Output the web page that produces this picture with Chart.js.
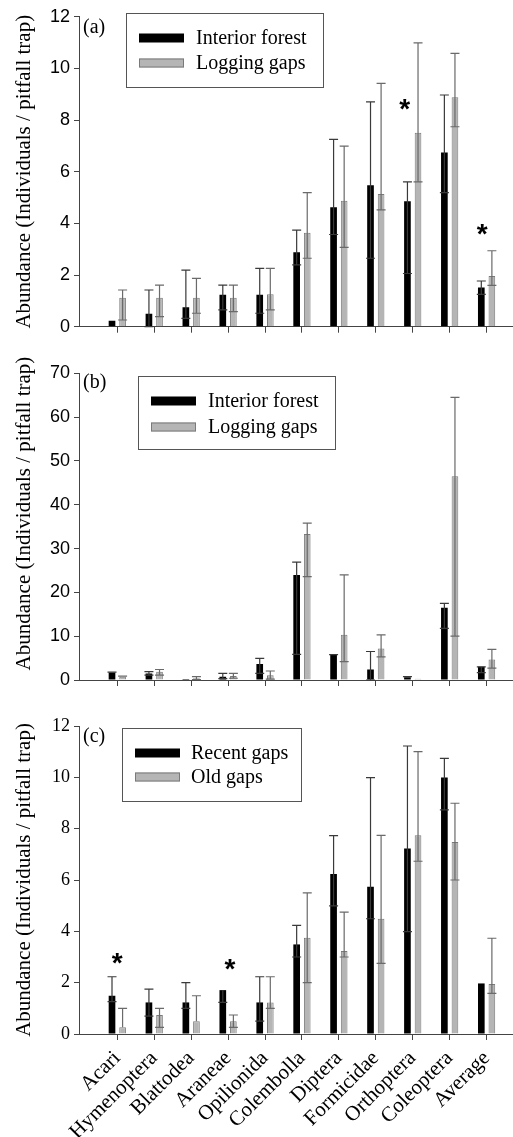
<!DOCTYPE html>
<html>
<head>
<meta charset="utf-8">
<script src="https://cdn.jsdelivr.net/npm/chart.js@4.4.1/dist/chart.umd.min.js"></script>
<style>
body { margin: 0; background: #fff; }
#wrap { position: relative; width: 513px; height: 1137px; }
#wrap canvas { position: absolute; left: 0; }
</style>
</head>
<body>
<div id="wrap">
  <canvas id="chartA" width="513" height="340" style="top:0px"></canvas>
  <canvas id="chartB" width="513" height="350" style="top:340px"></canvas>
  <canvas id="chartC" width="513" height="447" style="top:690px"></canvas>
</div>
<script>
// categories
const taxa = ['Acari', 'Hymenoptera', 'Blattodea', 'Araneae', 'Opilionida', 'Colembolla',
              'Diptera', 'Formicidae', 'Orthoptera', 'Coleoptera', 'Average'];

// (a) interior forest vs logging gaps
const aInterior   = [0.23, 0.50, 0.75, 1.24, 1.24, 2.88, 4.62, 5.48, 4.86, 6.74, 1.52];
const aInteriorHi = [null, 1.42, 2.19, 1.61, 2.26, 3.74, 7.25, 8.70, 5.61, 8.97, 1.77];
const aInteriorLo = [null, 0.00, 0.32, 0.65, 0.52, 2.39, 3.57, 2.65, 2.06, 5.19, 1.25];
const aLogging    = [1.12, 1.12, 1.12, 1.12, 1.26, 3.64, 4.88, 5.14, 7.51, 8.88, 1.96];
const aLoggingHi  = [1.42, 1.61, 1.87, 1.61, 2.26, 5.19, 6.99, 9.42, 10.99, 10.58, 2.94];
const aLoggingLo  = [0.26, 0.39, 0.52, 0.58, 0.65, 2.65, 3.07, 4.52, 5.61, 7.74, 1.60];
const aStarX = [7.78, 9.88];
const aStarY = [8.65, 3.83];

// (b) interior forest vs logging gaps
const bInterior   = [1.7, 1.5, 0.2, 0.76, 3.65, 23.97, 5.7, 2.4, 0.6, 16.5, 3.0];
const bInteriorHi = [1.8, 1.9, null, 1.5, 4.95, 26.9, 5.8, 6.5, 0.76, 17.5, 3.0];
const bInteriorLo = [null, 1.1, null, 0.3, 1.5, 5.86, null, 0.0, null, 11.8, 1.7];
const bLogging    = [0.76, 1.9, 0.4, 0.9, 1.1, 33.3, 10.3, 7.2, 0.3, 46.5, 4.7];
const bLoggingHi  = [0.9, 2.4, 0.76, 1.5, 2.05, 35.8, 24.0, 10.3, null, 64.5, 7.0];
const bLoggingLo  = [null, 1.1, 0.1, 0.4, 0.2, 23.6, 4.2, 5.3, null, 10.0, 2.7];

// (c) recent gaps vs old gaps
const cRecent   = [1.49, 1.23, 1.23, 1.71, 1.23, 3.49, 6.23, 5.74, 7.23, 9.99, 1.97];
const cRecentHi = [2.23, 1.75, 2.00, null, 2.23, 4.23, 7.73, 9.99, 11.22, 10.74, null];
const cRecentLo = [1.26, 0.70, 1.00, 1.23, 0.50, 3.00, 4.99, 4.49, 3.99, 8.73, null];
const cOld      = [0.26, 0.74, 0.50, 0.50, 1.23, 3.75, 3.23, 4.49, 7.74, 7.48, 1.95];
const cOldHi    = [1.00, 1.00, 1.49, 0.74, 2.23, 5.50, 4.75, 7.74, 11.00, 8.99, 3.73];
const cOldLo    = [null, 0.26, null, 0.26, 1.00, 2.00, 3.00, 2.75, 6.73, 6.00, 1.58];
const cStarX = [0, 3.05];
const cStarY = [3.01, 2.75];

const serif = 'Liberation Serif';
const sans = 'Liberation Sans';
const yTitle = 'Abundance (Individuals / pitfall trap)';

const errorBars = {
    id: 'errorBars',
    afterDatasetsDraw(chart) {
        const ctx = chart.ctx;
        const y = chart.scales.y;
        chart.data.datasets.forEach((ds, di) => {
            const meta = chart.getDatasetMeta(di);
            meta.data.forEach((bar, i) => {
                const hi = ds.errHi[i], lo = ds.errLo[i];
                if (hi == null && lo == null) return;
                const v = ds.data[i].y;
                const top = y.getPixelForValue(hi == null ? v : hi);
                const bot = y.getPixelForValue(lo == null ? v : lo);
                ctx.save();
                ctx.strokeStyle = ds.errColor;
                ctx.lineWidth = 1.2;
                ctx.beginPath();
                ctx.moveTo(bar.x, top);
                ctx.lineTo(bar.x, bot);
                if (hi != null) { ctx.moveTo(bar.x - 4.5, top); ctx.lineTo(bar.x + 4.5, top); }
                if (lo != null) { ctx.moveTo(bar.x - 4.5, bot); ctx.lineTo(bar.x + 4.5, bot); }
                ctx.stroke();
                ctx.restore();
            });
        });
    }
};

const extras = {
    id: 'extras',
    afterDraw(chart, args, opts) {
        const ctx = chart.ctx;
        ctx.save();
        // panel letter
        ctx.fillStyle = '#000';
        ctx.font = '20px "' + serif + '"';
        ctx.textAlign = 'left';
        ctx.textBaseline = 'alphabetic';
        ctx.fillText(opts.panel, opts.panelX, opts.panelY);

        // legend box
        const lg = opts.legend;
        ctx.fillStyle = '#fff';
        ctx.fillRect(lg.x, lg.y, lg.w, lg.h);
        ctx.strokeStyle = '#555';
        ctx.lineWidth = 1;
        ctx.strokeRect(lg.x + 0.5, lg.y + 0.5, lg.w, lg.h);
        chart.data.datasets.forEach((ds, di) => {
            const ry = lg.rows[di];
            ctx.fillStyle = ds.backgroundColor;
            ctx.fillRect(lg.swX, ry - 4.5, 45, 9);
            if (ds.borderWidth) {
                ctx.strokeStyle = ds.borderColor;
                ctx.strokeRect(lg.swX + 0.5, ry - 4, 44, 8);
            }
            ctx.fillStyle = '#000';
            ctx.font = '20px "' + serif + '"';
            ctx.textBaseline = 'middle';
            ctx.fillText(ds.label, lg.textX, ry + 1);
        });

        // significance stars
        const xs = chart.scales.x, ys = chart.scales.y;
        ctx.font = 'bold 28px "' + sans + '"';
        ctx.textAlign = 'center';
        ctx.textBaseline = 'alphabetic';
        ctx.fillStyle = '#000';
        (opts.starX || []).forEach((sx, k) => {
            const px = xs.getPixelForValue(sx);
            const py = ys.getPixelForValue(opts.starY[k]);
            ctx.fillText('*', px, py + 15);
        });
        ctx.restore();
    }
};

function toXY(vals) {
    return vals.map((v, i) => ({ x: i, y: v }));
}

function makeChart(id, cfg) {
    const canvas = document.getElementById(id);
    const H = canvas.height;
    const tickFont = { family: cfg.tickFamily, size: 18 };
    return new Chart(canvas, {
        type: 'bar',
        data: {
            datasets: [{
                label: cfg.names[0],
                data: toXY(cfg.s1),
                errHi: cfg.s1Hi,
                errLo: cfg.s1Lo,
                errColor: '#3a3a3a',
                backgroundColor: '#000',
                borderColor: '#000',
                borderWidth: 0,
                categoryPercentage: 0.573,
                barPercentage: 0.63
            }, {
                label: cfg.names[1],
                data: toXY(cfg.s2),
                errHi: cfg.s2Hi,
                errLo: cfg.s2Lo,
                errColor: '#6a6a6a',
                backgroundColor: '#b5b5b5',
                borderColor: '#7a7a7a',
                borderWidth: 1,
                categoryPercentage: 0.573,
                barPercentage: 0.63
            }]
        },
        options: {
            responsive: false,
            animation: false,
            devicePixelRatio: 1,
            events: [],
            layout: { padding: { top: cfg.top, left: 0, right: 0, bottom: 0 } },
            plugins: {
                legend: { display: false },
                tooltip: { enabled: false },
                extras: cfg.extras
            },
            scales: {
                x: {
                    type: 'linear',
                    min: -1.037,
                    max: 10.715,
                    offset: false,
                    afterBuildTicks: function(scale) {
                        scale.ticks = taxa.map((t, i) => ({ value: i }));
                    },
                    ticks: {
                        display: cfg.showLabels,
                        autoSkip: false,
                        minRotation: 45,
                        maxRotation: 45,
                        padding: 6,
                        color: '#000',
                        font: { family: serif, size: 21 },
                        callback: function(value) { return taxa[value]; }
                    },
                    grid: { offset: false, drawOnChartArea: false, drawTicks: true, tickLength: 6, color: '#444' },
                    border: { display: true, color: '#444', width: 1 },
                    afterFit: function(scale) {
                        scale.height = H - cfg.bottom;
                        scale.paddingLeft = 0;
                        scale.paddingRight = 0;
                    }
                },
                y: {
                    min: 0,
                    max: cfg.yMax,
                    ticks: { stepSize: cfg.yStep, color: '#000', font: tickFont, padding: 4 },
                    grid: { drawOnChartArea: false, drawTicks: true, tickLength: 5, color: '#444' },
                    border: { display: true, color: '#444', width: 1 },
                    title: {
                        display: true,
                        text: (cfg.titleShift || '') + yTitle,
                        color: '#000',
                        font: { family: serif, size: 21 },
                        padding: { top: 12, bottom: 0 }
                    },
                    afterFit: function(scale) {
                        scale.width = 79;
                        scale.paddingTop = 0;
                        scale.paddingBottom = 0;
                    }
                }
            }
        },
        plugins: [errorBars, extras]
    });
}

makeChart('chartA', {
    names: ['Interior forest', 'Logging gaps'],
    s1: aInterior, s1Hi: aInteriorHi, s1Lo: aInteriorLo,
    s2: aLogging, s2Hi: aLoggingHi, s2Lo: aLoggingLo,
    yMax: 12, yStep: 2, top: 16.7, bottom: 326.7,
    tickFamily: sans, showLabels: false,
    extras: {
        panel: '(a)', panelX: 83, panelY: 33,
        legend: { x: 126, y: 13, w: 197, h: 74, rows: [38, 63], swX: 139, textX: 196 },
        starX: aStarX, starY: aStarY
    }
});

makeChart('chartB', {
    names: ['Interior forest', 'Logging gaps'],
    s1: bInterior, s1Hi: bInteriorHi, s1Lo: bInteriorLo,
    s2: bLogging, s2Hi: bLoggingHi, s2Lo: bLoggingLo,
    yMax: 70, yStep: 10, top: 33.3, bottom: 340,
    tickFamily: sans, showLabels: false,
    titleShift: '\u00a0\u00a0\u00a0\u00a0\u00a0',
    extras: {
        panel: '(b)', panelX: 83, panelY: 48,
        legend: { x: 138, y: 36, w: 197, h: 73, rows: [61, 87], swX: 151, textX: 208 }
    }
});

makeChart('chartC', {
    names: ['Recent gaps', 'Old gaps'],
    s1: cRecent, s1Hi: cRecentHi, s1Lo: cRecentLo,
    s2: cOld, s2Hi: cOldHi, s2Lo: cOldLo,
    yMax: 12, yStep: 2, top: 36, bottom: 344,
    tickFamily: serif, showLabels: true,
    extras: {
        panel: '(c)', panelX: 83, panelY: 52,
        legend: { x: 122, y: 38, w: 179, h: 73, rows: [63, 87], swX: 135, textX: 191 },
        starX: cStarX, starY: cStarY
    }
});
</script>
</body>
</html>
